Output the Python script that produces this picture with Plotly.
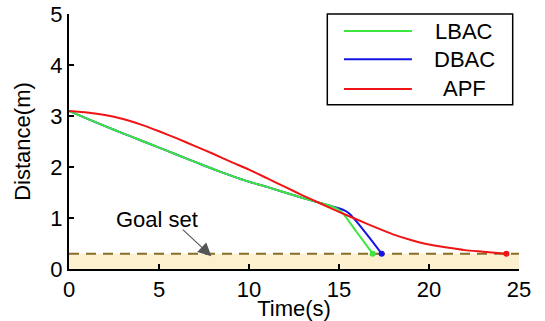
import plotly.graph_objects as go

# Distance-to-goal traces (time in s, distance in m)
lbac_t = [0, 1, 2, 3, 4, 5, 6, 7, 8, 9, 10, 11, 12, 13, 14, 14.5, 15.0, 15.2, 15.97, 16.87]
lbac_d = [3.10, 2.95, 2.80, 2.66, 2.52, 2.38, 2.24, 2.10, 1.96, 1.83, 1.71, 1.61, 1.50, 1.39, 1.29, 1.24, 1.16, 1.10, 0.73, 0.30]

dbac_t = [0, 1, 2, 3, 4, 5, 6, 7, 8, 9, 10, 11, 12, 13, 14, 14.5, 15.0, 15.3, 15.6, 16.0, 16.7, 17.37]
dbac_d = [3.10, 2.95, 2.80, 2.66, 2.52, 2.38, 2.24, 2.10, 1.96, 1.83, 1.71, 1.61, 1.50, 1.39, 1.29, 1.24, 1.19, 1.15, 1.08, 0.92, 0.61, 0.30]

apf_t = [0, 1, 2, 3, 4, 5, 6, 7, 8, 9, 10, 11, 12, 13, 14, 15, 16, 17, 18, 19, 20, 21, 22, 23, 24.3]
apf_d = [3.10, 3.07, 3.02, 2.94, 2.83, 2.70, 2.56, 2.41, 2.26, 2.10, 1.95, 1.78, 1.61, 1.44, 1.28, 1.12, 0.97, 0.82, 0.68, 0.57, 0.48, 0.42, 0.37, 0.34, 0.30]

goal_radius = 0.3
t_max = 25

names = ["LBAC", "DBAC", "APF"]
colors = ["#3de63d", "#1414e6", "#f01414"]
series = [(lbac_t, lbac_d), (dbac_t, dbac_d), (apf_t, apf_d)]
draw_order = [1, 0, 2]  # DBAC underneath, then LBAC, APF on top

FONT = "Liberation Sans, Arial, sans-serif"

fig = go.Figure()

for i in draw_order:
    name, color, (t, d) = names[i], colors[i], series[i]
    fig.add_trace(go.Scatter(
        x=t, y=d, mode="lines", name=name,
        line=dict(color=color, width=2, shape="spline", smoothing=0.5),
        showlegend=False,
    ))
    # arrival point
    fig.add_trace(go.Scatter(
        x=[t[-1]], y=[d[-1]], mode="markers",
        marker=dict(color=color, size=6),
        showlegend=False, hoverinfo="skip",
    ))

shapes = [
    # goal set band
    dict(type="rect", xref="x", yref="y", x0=0, x1=t_max, y0=0, y1=goal_radius,
         fillcolor="#fdf0ce", line=dict(width=0), layer="below"),
    dict(type="line", xref="x", yref="y", x0=0, x1=t_max, y0=goal_radius, y1=goal_radius,
         line=dict(color="#8a6d26", width=2, dash="10px,7px"), layer="below"),
    # legend frame
    dict(type="rect", xref="paper", yref="paper", x0=0.574, x1=0.986, y0=0.644, y1=1.0,
         line=dict(color="black", width=1.5), fillcolor="white"),
]

annotations = [
    dict(x=4.87, y=0.97, xref="x", yref="y", text="Goal set", showarrow=False,
         font=dict(size=22, color="black", family=FONT)),
    dict(x=7.91, y=0.25, ax=6.24, ay=0.80, xref="x", yref="y", axref="x", ayref="y",
         text="", showarrow=True, arrowhead=2, arrowsize=2.4, arrowwidth=1.1,
         arrowcolor="#555555"),
]

legend_y = [0.933, 0.823, 0.706]
for name, color, ly in zip(names, colors, legend_y):
    shapes.append(dict(type="line", xref="paper", yref="paper", x0=0.611, x1=0.762,
                       y0=ly, y1=ly, line=dict(color=color, width=2)))
    annotations.append(dict(x=0.878, y=ly, xref="paper", yref="paper", text=name,
                            showarrow=False, xanchor="center", yanchor="middle",
                            font=dict(size=22, color="black", family=FONT)))

fig.update_layout(
    width=545, height=321,
    margin=dict(l=69, r=26, t=14, b=51.5),
    paper_bgcolor="white", plot_bgcolor="white",
    font=dict(family=FONT, size=22, color="black"),
    shapes=shapes, annotations=annotations,
    showlegend=False,
)

fig.update_xaxes(
    range=[0, t_max], tickvals=[0, 5, 10, 15, 20, 25],
    showgrid=False, zeroline=False, automargin=False,
    showline=True, linecolor="black", linewidth=2,
    ticks="inside", ticklen=5, tickwidth=1.5, tickcolor="black",
    title=dict(text="Time(s)", standoff=0, font=dict(size=22)),
    tickfont=dict(size=22),
)
fig.update_yaxes(
    range=[0, 5], tickvals=[0, 1, 2, 3, 4, 5],
    showgrid=False, zeroline=False, automargin=False,
    showline=True, linecolor="black", linewidth=2,
    ticks="inside", ticklen=5, tickwidth=1.5, tickcolor="black",
    title=dict(text="Distance(m)", standoff=14, font=dict(size=22)),
    tickfont=dict(size=22),
)

fig.write_html("out.html")
